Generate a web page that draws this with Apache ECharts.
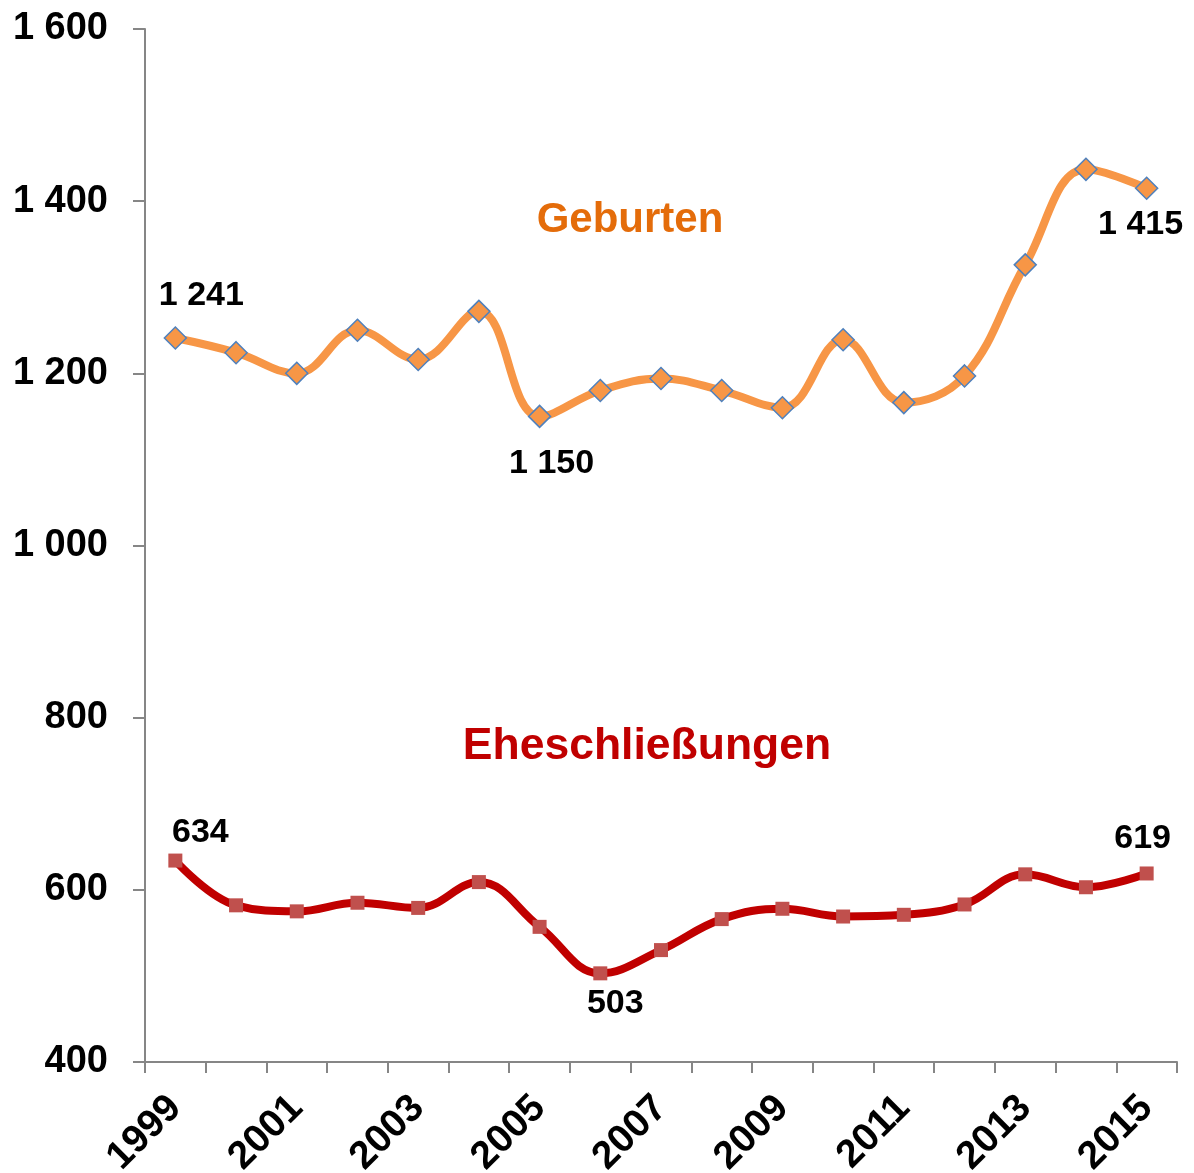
<!DOCTYPE html>
<html>
<head>
<meta charset="utf-8">
<script src="https://cdn.jsdelivr.net/npm/echarts@6/dist/echarts.min.js"></script>
<style>
  html, body { margin: 0; padding: 0; background: #fff; }
  #chart { width: 1194px; height: 1173px; }
</style>
</head>
<body>
<div id="chart"></div>
<script>
const years = ["1999", "2000", "2001", "2002", "2003", "2004", "2005", "2006", "2007",
  "2008", "2009", "2010", "2011", "2012", "2013", "2014", "2015"];
const geburten = [1241, 1224, 1200, 1250, 1216, 1272, 1150, 1180, 1194,
  1180, 1160, 1239, 1166, 1197, 1326, 1437, 1415];
const ehe = [634, 582, 575, 585, 579, 609, 557, 503, 530,
  566, 578, 569, 571, 583, 618, 603, 619];

// which points get a value label, and where (offset from marker centre)
const geburtenLabels = { 0: [26, -42], 6: [12, 47], 16: [-6, 36] };
const eheLabels = { 0: [25, -28], 7: [15, 30], 16: [-4, -35] };

const font = "'Liberation Sans', Arial, sans-serif";
const formatNum = v => {
  const s = String(v);
  return s.length > 3 ? s.slice(0, s.length - 3) + " " + s.slice(-3) : s;
};

const withLabels = (values, labels) =>
  values.map((v, i) => {
    if (!labels[i]) {
      return v;
    }
    return {
      value: v,
      label: {
        show: true,
        position: "inside",
        offset: labels[i],
        align: "center",
        verticalAlign: "middle",
        formatter: p => formatNum(p.value),
        color: "#000",
        fontFamily: font,
        fontWeight: "bold",
        fontSize: 34
      }
    };
  });

const chart = echarts.init(document.getElementById("chart"));
chart.setOption({
  animation: false,
  backgroundColor: "#fff",
  grid: { left: 145, right: 17, top: 29, bottom: 111, containLabel: false, outerBoundsMode: "none" },
  xAxis: {
    type: "category",
    data: years,
    boundaryGap: true,
    axisLine: { lineStyle: { color: "#868686", width: 2 } },
    axisTick: { show: true, interval: 0, length: 11, lineStyle: { color: "#868686", width: 2 } },
    axisLabel: {
      interval: 1,
      rotate: 45,
      margin: 40,
      color: "#000",
      fontFamily: font,
      fontWeight: "bold",
      fontSize: 39
    },
    splitLine: { show: false }
  },
  yAxis: {
    type: "value",
    min: 400,
    max: 1600,
    interval: 200,
    axisLine: { show: true, lineStyle: { color: "#868686", width: 2 } },
    axisTick: { show: true, length: 12, lineStyle: { color: "#868686", width: 2 } },
    axisLabel: {
      margin: 37,
      color: "#000",
      fontFamily: font,
      fontWeight: "bold",
      fontSize: 38,
      formatter: formatNum
    },
    splitLine: { show: false }
  },
  graphic: [
    {
      type: "text",
      x: 630,
      y: 220,
      style: {
        text: "Geburten",
        fill: "#E46C0A",
        font: "bold 42px " + font,
        textAlign: "center",
        textVerticalAlign: "middle"
      }
    },
    {
      type: "text",
      x: 647,
      y: 747,
      style: {
        text: "Eheschließungen",
        fill: "#C00000",
        font: "bold 44.5px " + font,
        textAlign: "center",
        textVerticalAlign: "middle"
      }
    }
  ],
  series: [
    {
      name: "Geburten",
      type: "line",
      data: withLabels(geburten, geburtenLabels),
      smooth: 0.4,
      symbol: "diamond",
      symbolSize: 22,
      lineStyle: { color: "#F79646", width: 8 },
      itemStyle: { color: "#F79646", borderColor: "#4F81BD", borderWidth: 1.5 },
      z: 3
    },
    {
      name: "Eheschließungen",
      type: "line",
      data: withLabels(ehe, eheLabels),
      smooth: 0.4,
      symbol: "rect",
      symbolSize: 14,
      lineStyle: { color: "#C00000", width: 8 },
      itemStyle: { color: "#C0504D", borderWidth: 0 },
      z: 3
    }
  ]
});
</script>
</body>
</html>
